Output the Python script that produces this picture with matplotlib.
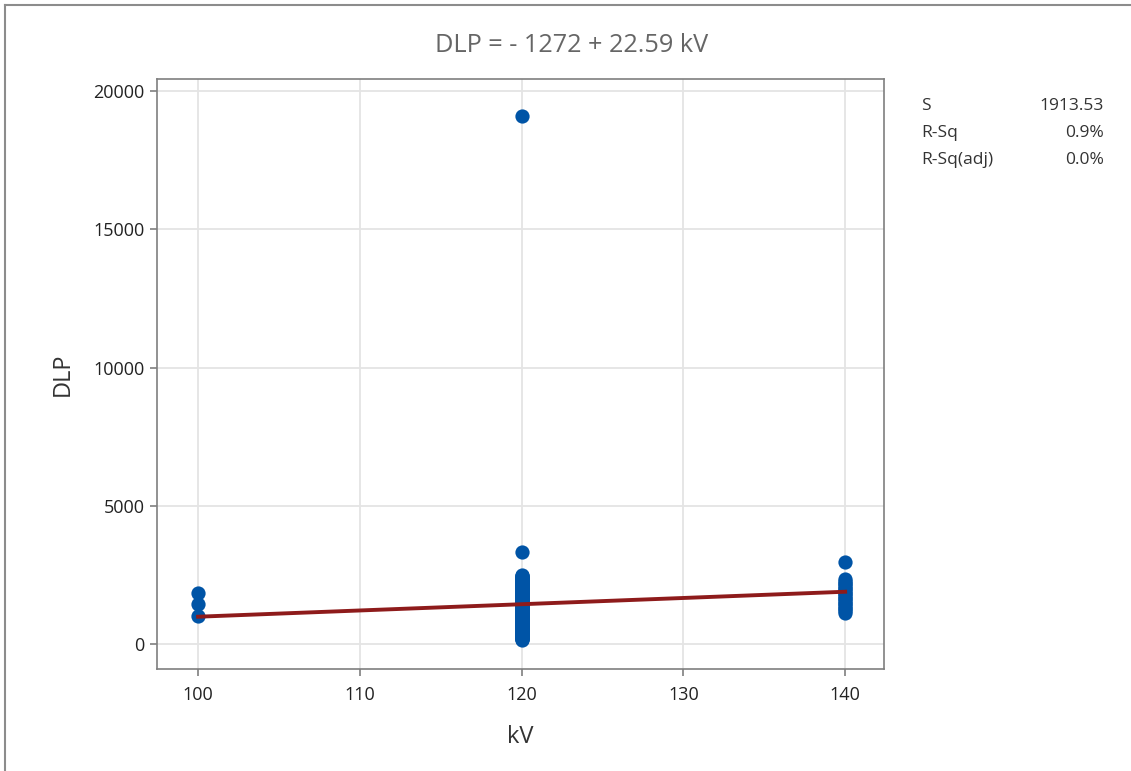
import numpy as np
import matplotlib
matplotlib.use("Agg")
import matplotlib.pyplot as plt
from matplotlib.lines import Line2D

plt.rcParams['font.family'] = ['Open Sans', 'DejaVu Sans']

# Data
kv_100 = [1000, 1450, 1850]
kv_120 = [150, 170, 190, 215, 240, 265, 290, 310, 330, 355, 380, 400,
          420, 445, 470, 495, 520, 540, 560, 585, 610, 630, 650, 675,
          700, 725, 750, 770, 790, 815, 840, 860, 880, 905, 930, 955,
          980, 1000, 1020, 1045, 1070, 1090, 1110, 1135, 1160, 1185, 1210,
          1230, 1250, 1275, 1300, 1320, 1340, 1365, 1390, 1415, 1440, 1460,
          1480, 1505, 1530, 1550, 1570, 1595, 1620, 1645, 1670, 1690, 1710,
          1735, 1760, 1780, 1800, 1825, 1850, 1875, 1900, 1920, 1940, 1965,
          1990, 2010, 2030, 2055, 2080, 2105, 2130, 2150, 2170, 2195, 2220,
          2240, 2260, 2285, 2310, 2335, 2360, 2380, 2400, 2425, 2450, 2470,
          2490,
          3330, 19100]
kv_140 = [1120, 1180, 1250, 1320, 1380, 1440, 1500, 1560, 1620, 1680, 1740,
          1800, 1860, 1920, 1980, 2040, 2100, 2160, 2220, 2290, 2350, 2970]

intercept = -1272
slope = 22.59
stat_names = ["S", "R-Sq", "R-Sq(adj)"]
stat_values = ["1913.53", "0.9%", "0.0%"]
x_ticks = [100, 110, 120, 130, 140]
y_ticks = [0, 5000, 10000, 15000, 20000]

kv = [100] * len(kv_100) + [120] * len(kv_120) + [140] * len(kv_140)
dlp = kv_100 + kv_120 + kv_140

fig = plt.figure(figsize=(11.31, 7.71), dpi=100)
ax = fig.add_axes([157 / 1131, 1 - 669 / 771, (884 - 157) / 1131, (669 - 79) / 771])

ax.grid(True, color="#e4e4e4", lw=1.3, zorder=0)
ax.scatter(kv, dlp, s=105, color="#0054a6", zorder=3, linewidths=0)
xf = np.array([100, 140])
ax.plot(xf, intercept + slope * xf, color="#8e1b1b", lw=2.8, zorder=4)

ax.set_xlim(97.46, 142.4)
ax.set_ylim(-904, 20434)
ax.set_xticks(x_ticks)
ax.set_yticks(y_ticks)
for sp in ax.spines.values():
    sp.set_color("#7f7f7f")
    sp.set_linewidth(1.2)
ax.tick_params(colors="#7f7f7f", labelcolor="#222222", labelsize=13, length=5, width=1.2)
ax.tick_params(axis="x", pad=7)
ax.tick_params(axis="y", pad=4)

fig.text(520 / 1131, 1 - 737 / 771, "kV", ha="center", va="center", fontsize=17, color="#333333")
fig.text(63 / 1131, 1 - 374 / 771, "DLP", ha="center", va="center", fontsize=17,
         color="#333333", rotation=90)

fig.text(572 / 1131, 1 - 45 / 771, "DLP = - 1272 + 22.59 kV", ha="center", va="center",
         fontsize=18.2, color="#666666")

for i, (n, v) in enumerate(zip(stat_names, stat_values)):
    y = 1 - (106 + i * 27) / 771
    fig.text(921 / 1131, y, n, ha="left", va="center", fontsize=12.5, color="#333333")
    fig.text(1104 / 1131, y, v, ha="right", va="center", fontsize=12.5, color="#333333")

# outer frame (top and left only)
fig.add_artist(Line2D([5 / 1131, 5 / 1131], [0, 1 - 5 / 771], transform=fig.transFigure,
                      color="#8c8c8c", lw=1.5))
fig.add_artist(Line2D([5 / 1131, 1], [1 - 5 / 771, 1 - 5 / 771], transform=fig.transFigure,
                      color="#8c8c8c", lw=1.5))

fig.savefig("out.png", dpi=100)
